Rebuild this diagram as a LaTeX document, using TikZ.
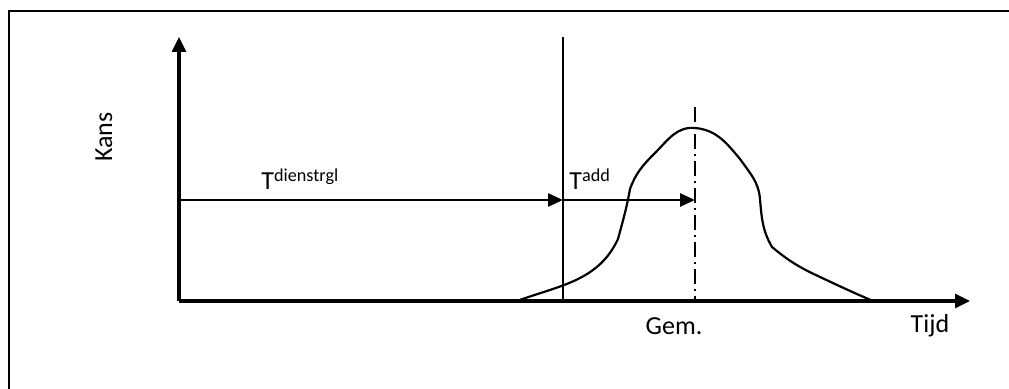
\documentclass[tikz,border=0pt]{standalone}
\usepackage{fontspec}
\setmainfont{Carlito}
\usetikzlibrary{arrows.meta}

\begin{document}
\begin{tikzpicture}[x=0.5pt,y=0.5pt,
    axis/.style={line width=1.6pt,-{Triangle[length=7.5pt,width=7pt]}},
    span/.style={line width=1.4pt,-{Triangle[length=7.5pt,width=6.5pt]}},
    lbl/.style={font=\fontsize{13}{15}\selectfont,inner sep=0pt}]
  \useasboundingbox (0,0) rectangle (1009,389);
  \clip (0,0) rectangle (1009,389);
  \draw[line width=1.2pt] (9,-20) rectangle (1030,378);
  % axes
  \coordinate (o) at (179,88);
  \coordinate (ytop) at (179,352);
  \coordinate (xend) at (970,88);
  \draw[axis] (o) -- (ytop);
  \draw[axis] (o) -- (xend);
  \node[lbl,rotate=90] (kans) at (104,252) {Kans};
  \node[lbl] (tijd) at (930,63) {Tijd};
  % deadline and mean
  \coordinate (dtop) at (563,352);
  \coordinate (dbot) at (563,88);
  \coordinate (mtop) at (695,282);
  \coordinate (mbot) at (695,88);
  \draw[line width=0.9pt] (dtop) -- (dbot);
  \draw[line width=0.9pt,dash pattern=on 7.5pt off 2.5pt on 1pt off 2.5pt] (mtop) -- (mbot);
  \node[lbl] (gem) at (674,63) {Gem.};
  % time spans
  \coordinate (s0) at (179,189);
  \coordinate (s1) at (563,189);
  \coordinate (s2) at (695,189);
  \draw[span] (s0) -- (s1);
  \draw[span] (s1) -- (s2);
  \node[lbl,anchor=base west] (tdienst) at (261,199) {T\textsuperscript{dienstrgl}};
  \node[lbl,anchor=base west] (tadd) at (569,199) {T\textsuperscript{add}};
  % distribution
  \draw[line width=1.1pt] (517,88) to[out=20,in=-115] (618,150)
    to[out=75,in=-100] (630,200) to[out=70,in=-135] (655,236)
    to[out=45,in=175] (695,261) to[out=-5,in=130] (740,230)
    to[out=-55,in=95] (760,190) to[out=-85,in=120] (772,142)
    to[out=-40,in=155] (820,112) to[out=-25,in=157] (873,88);
\end{tikzpicture}
\end{document}
